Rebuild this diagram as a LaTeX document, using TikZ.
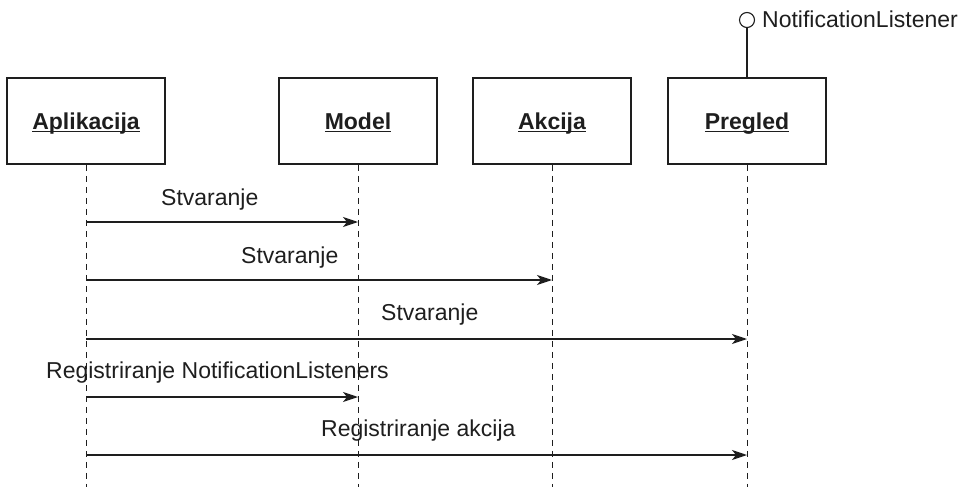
\documentclass[tikz,border=0pt]{standalone}
\usepackage{fontspec}
\setmainfont{Liberation Sans}
\usetikzlibrary{arrows.meta}
% underlined object name with a rule of fixed thickness
\newcommand\ulname[1]{\setbox0\hbox{#1}\rlap{\vrule height-1.6pt depth3.4pt width\wd0}\box0}
\definecolor{ink}{HTML}{1E1E1E}
\begin{document}
\begin{tikzpicture}[x=1pt,y=-1pt,
  objbox/.style={draw=ink,line width=1.5pt,minimum width=158pt,minimum height=86pt,inner sep=0pt},
  objname/.style={text=ink,font=\fontsize{23}{27}\selectfont\bfseries,anchor=base,inner sep=0pt},
  lifeline/.style={draw=ink,line width=1pt,dash pattern=on 6.5pt off 4.5pt},
  msg/.style={draw=ink,line width=1.4pt,-{Stealth[length=15pt,width=10pt,inset=4pt]}},
  msglabel/.style={text=ink,font=\fontsize{23}{27}\selectfont,anchor=base west,inner sep=0pt}]
\useasboundingbox (0,0) rectangle (969,487);

% participants
\node[objbox] (apl) at (86,121) {};
\node[objbox] (mod) at (358,121) {};
\node[objbox] (akc) at (552,121) {};
\node[objbox] (pre) at (747,121) {};
\node[objname] (apl-n) at (86,129) {\ulname{Aplikacija}};
\node[objname] (mod-n) at (358,129) {\ulname{Model}};
\node[objname] (akc-n) at (552,129) {\ulname{Akcija}};
\node[objname] (pre-n) at (747,129) {\ulname{Pregled}};

% provided interface of Pregled
\node[draw=ink,line width=1.1pt,circle,minimum size=15pt,inner sep=0pt] (iface) at (747,20) {};
\draw[draw=ink,line width=1.2pt] (pre.north) -- (iface.south);
\node[msglabel] (iface-n) at (762,28) {NotificationListener};

% lifelines
\coordinate (bottom) at (0,487);
\foreach \o in {apl,mod,akc,pre}
  \draw[lifeline] (\o.south) -- (\o.south |- bottom);

% message rows
\coordinate (r1) at (0,222);
\coordinate (r2) at (0,280);
\coordinate (r3) at (0,339);
\coordinate (r4) at (0,397);
\coordinate (r5) at (0,455);

\draw[msg] (apl |- r1) -- (mod |- r1);
\draw[msg] (apl |- r2) -- (akc |- r2);
\draw[msg] (apl |- r3) -- (pre |- r3);
\draw[msg] (apl |- r4) -- (mod |- r4);
\draw[msg] (apl |- r5) -- (pre |- r5);

\node[msglabel] (l1) at (161,205) {Stvaranje};
\node[msglabel] (l2) at (241,263) {Stvaranje};
\node[msglabel] (l3) at (381,320) {Stvaranje};
\node[msglabel] (l4) at (46,378) {Registriranje NotificationListeners};
\node[msglabel] (l5) at (321,436) {Registriranje akcija};
\end{tikzpicture}
\end{document}
